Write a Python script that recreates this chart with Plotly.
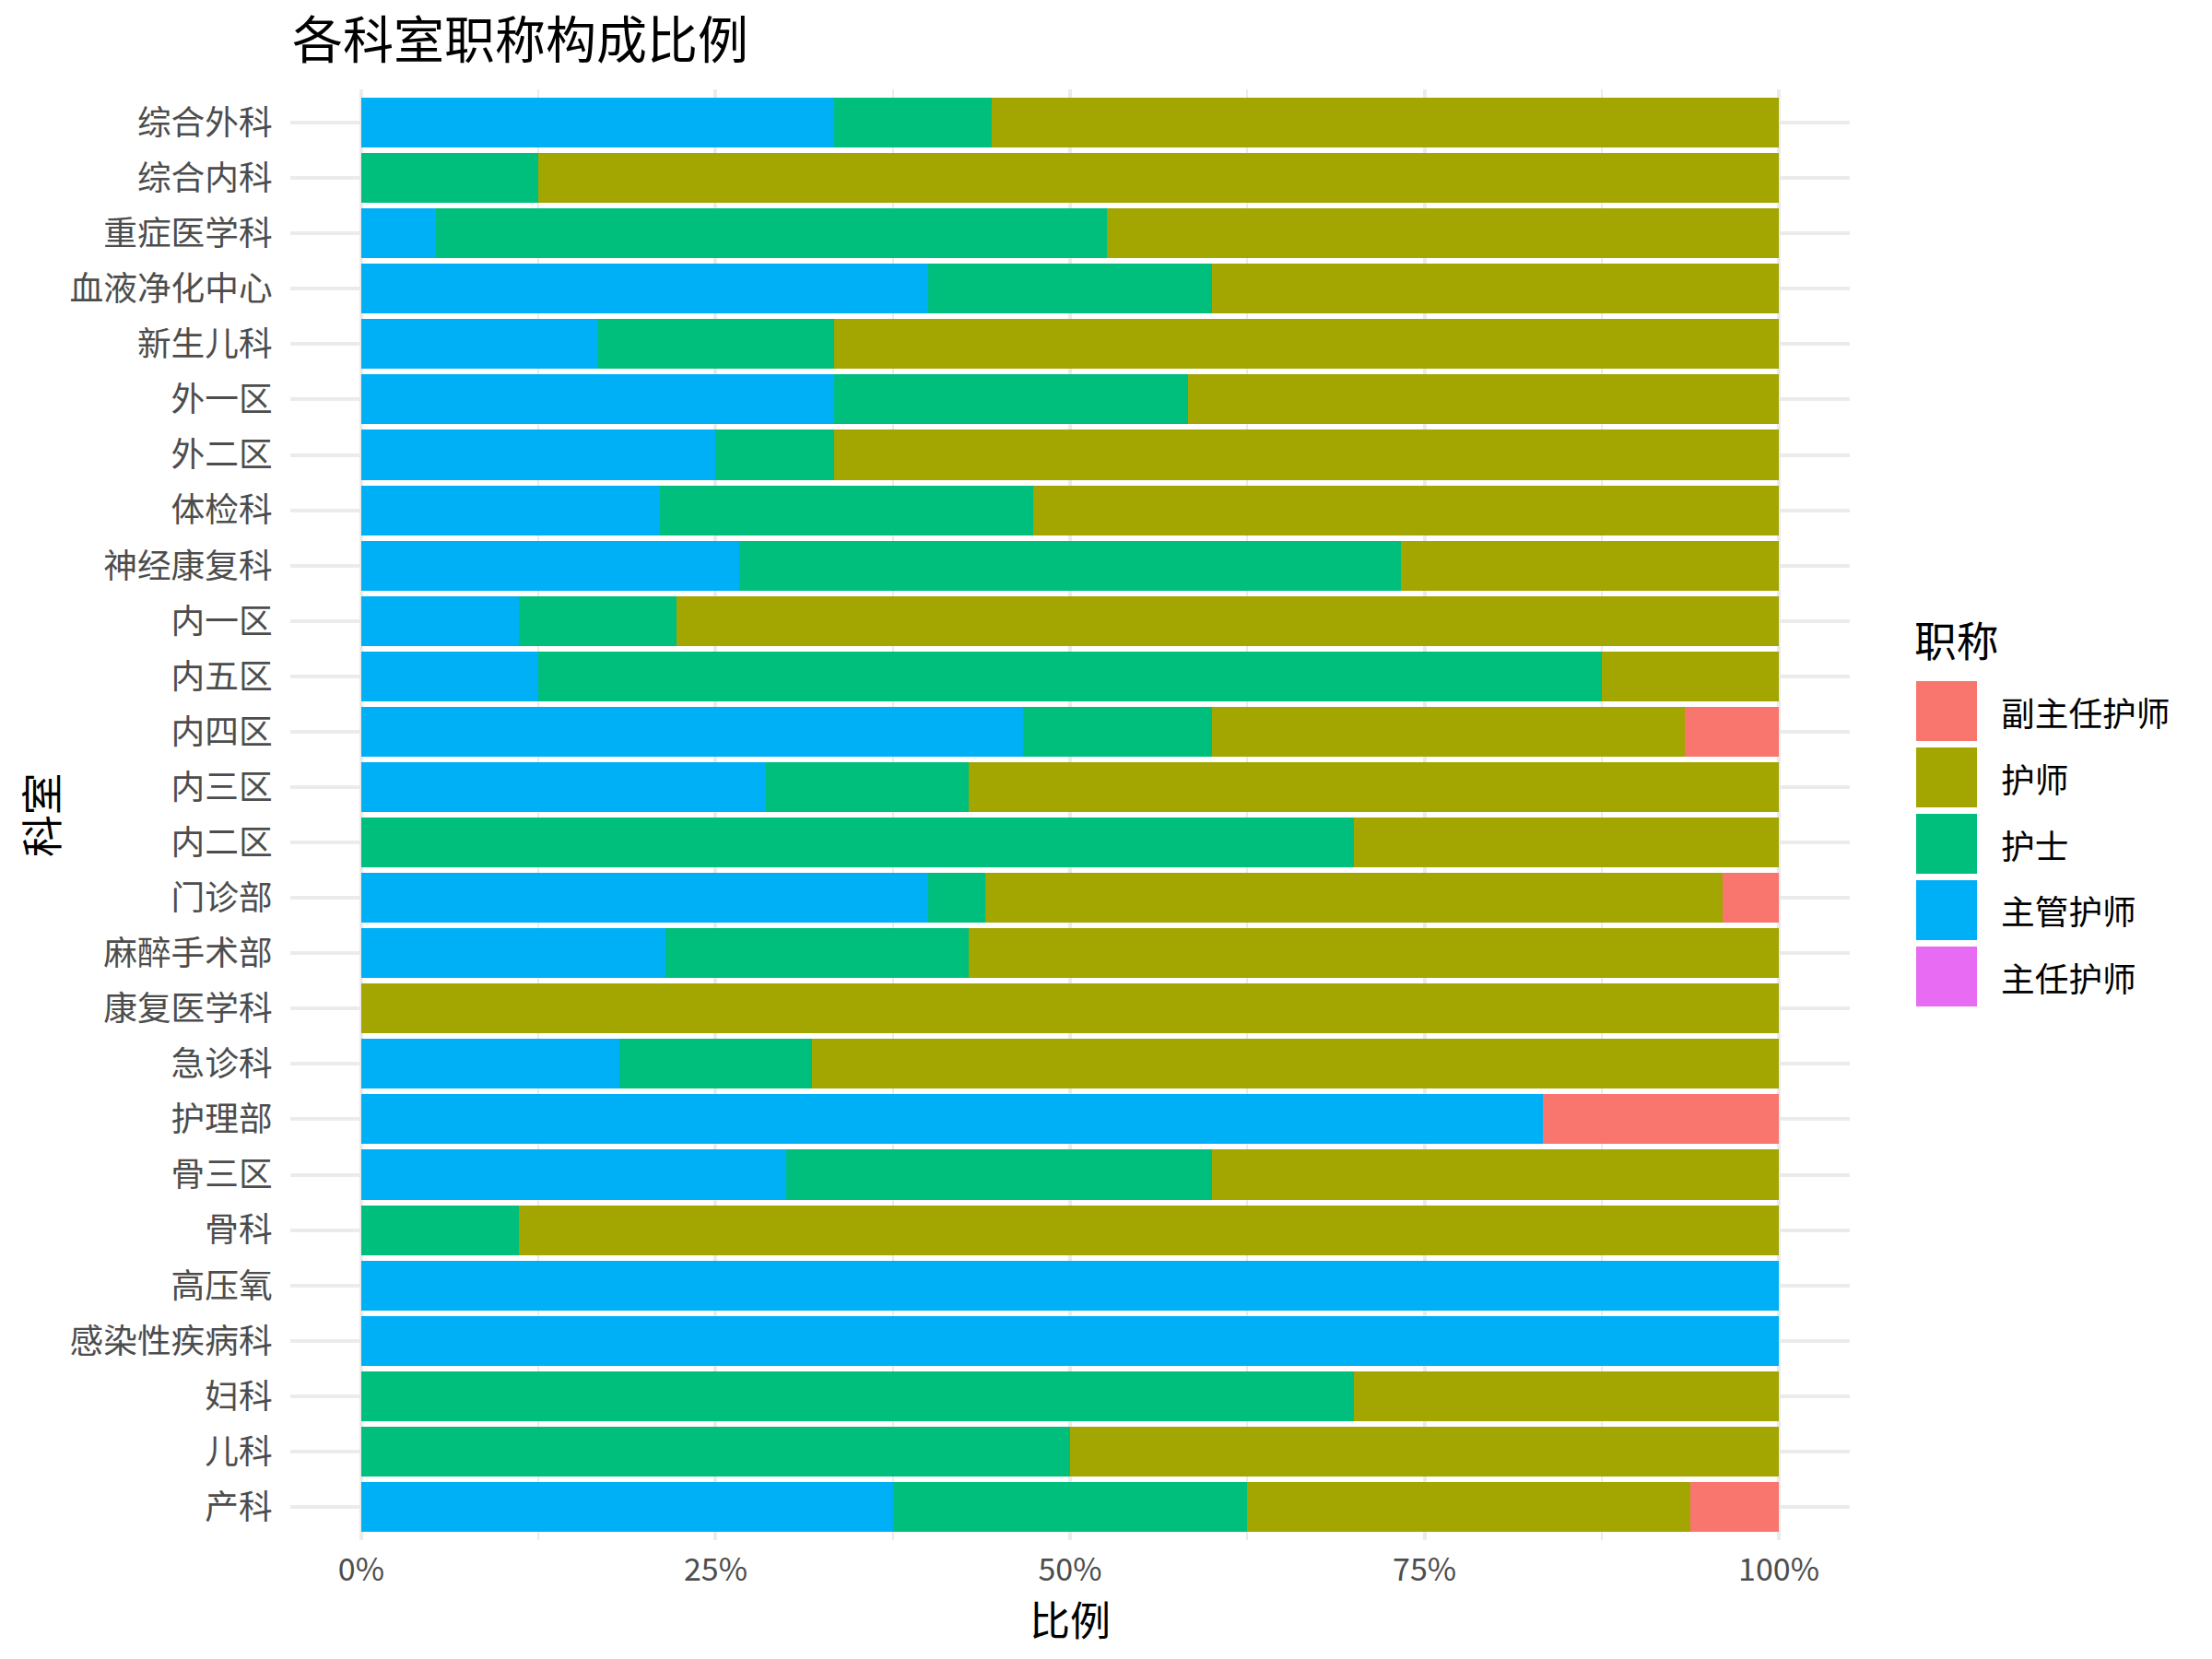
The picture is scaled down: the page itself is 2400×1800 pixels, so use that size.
import plotly.graph_objects as go

departments = ["综合外科", "综合内科", "重症医学科", "血液净化中心", "新生儿科", "外一区", "外二区",
               "体检科", "神经康复科", "内一区", "内五区", "内四区", "内三区", "内二区", "门诊部",
               "麻醉手术部", "康复医学科", "急诊科", "护理部", "骨三区", "骨科", "高压氧",
               "感染性疾病科", "妇科", "儿科", "产科"]

# counts per title (主任护师 absent everywhere)
zhuren    = [0] * 26
zhuguan   = [3, 0, 1, 2, 1, 4, 3, 4, 4, 1, 1, 7, 2, 0, 10, 3, 0, 4, 5, 3, 0, 1, 1, 0, 0, 6]
hushi_sh  = [1, 1, 9, 1, 1, 3, 1, 5, 7, 1, 6, 2, 1, 7, 1, 3, 0, 3, 0, 3, 1, 0, 0, 7, 1, 4]
hushi     = [5, 7, 9, 2, 4, 5, 8, 10, 4, 7, 1, 5, 4, 3, 13, 8, 1, 15, 0, 4, 8, 0, 0, 3, 1, 5]
fuzhuren  = [0, 0, 0, 0, 0, 0, 0, 0, 0, 0, 0, 1, 0, 0, 1, 0, 0, 0, 1, 0, 0, 0, 0, 0, 0, 1]

legend_labels = ["副主任护师", "护师", "护士", "主管护师", "主任护师"]
legend_colors = ["#F8766D", "#A3A500", "#00BF7D", "#00B0F6", "#E76BF3"]

series = {"副主任护师": fuzhuren, "护师": hushi, "护士": hushi_sh, "主管护师": zhuguan, "主任护师": zhuren}
color_of = dict(zip(legend_labels, legend_colors))
stack_order = ["主任护师", "主管护师", "护士", "护师", "副主任护师"]

FONT = "Noto Sans CJK SC"
W, H = 2400, 1800
ML, MR, MT, MB = 315, 393, 97, 129
PW, PH = W - ML - MR, H - MT - MB

fig = go.Figure()
for name in stack_order:
    fig.add_trace(go.Bar(y=departments, x=series[name], name=name, orientation="h",
                         marker=dict(color=color_of[name], line=dict(width=0)),
                         showlegend=False))

def px(X):
    return (X - ML) / PW

def py(Y):
    return (H - MB - Y) / PH

shapes = []
annotations = []
# legend
annotations.append(dict(text="职称", x=px(2075), y=py(693), xref="paper", yref="paper",
                        xanchor="left", yanchor="middle", showarrow=False,
                        font=dict(family=FONT, size=45.8, color="black")))
for i, (lab, col) in enumerate(zip(legend_labels, legend_colors)):
    top = 739 + 72 * i
    shapes.append(dict(type="rect", xref="paper", yref="paper",
                       x0=px(2079), x1=px(2145), y0=py(top + 65), y1=py(top),
                       fillcolor=col, line=dict(width=0)))
    annotations.append(dict(text=lab, x=px(2169), y=py(top + 32.5), xref="paper", yref="paper",
                            xanchor="left", yanchor="middle", showarrow=False,
                            font=dict(family=FONT, size=36.7, color="black")))
# axis titles
annotations.append(dict(text="比例", x=0.5, y=py(1756), xref="paper", yref="paper",
                        xanchor="center", yanchor="middle", showarrow=False,
                        font=dict(family=FONT, size=44, color="black")))
annotations.append(dict(text="科室", x=px(43), y=0.5, xref="paper", yref="paper",
                        xanchor="center", yanchor="middle", showarrow=False, textangle=-90,
                        font=dict(family=FONT, size=45.8, color="black")))

fig.update_layout(
    width=W, height=H,
    margin=dict(l=ML, r=MR, t=MT, b=MB, pad=0),
    barmode="stack", barnorm="fraction", bargap=0.1,
    plot_bgcolor="white", paper_bgcolor="white",
    font=dict(family=FONT),
    showlegend=False,
    title=dict(text="各科室职称构成比例", x=px(317), xref="paper", xanchor="left",
               y=1 - 44 / H, yref="container", yanchor="middle",
               font=dict(family=FONT, size=55, color="black")),
    shapes=shapes, annotations=annotations,
)
fig.update_xaxes(range=[-0.05, 1.05], tickvals=[0, 0.25, 0.5, 0.75, 1.0], tickformat=".0%",
                 showgrid=True, gridcolor="#EBEBEB", gridwidth=3.5, zeroline=False,
                 showline=False, ticks="outside", ticklen=2, tickcolor="rgba(0,0,0,0)",
                 tickfont=dict(family=FONT, size=34, color="#4D4D4D"),
                 minor=dict(tickvals=[0.125, 0.375, 0.625, 0.875], showgrid=True,
                            gridcolor="#EBEBEB", gridwidth=1.8, ticks=""))
fig.update_yaxes(type="category", categoryorder="array", categoryarray=departments,
                 range=[len(departments) - 1 + 0.6, -0.6],
                 showgrid=True, gridcolor="#EBEBEB", gridwidth=3.5, zeroline=False,
                 showline=False, ticks="outside", ticklen=11, tickcolor="rgba(0,0,0,0)",
                 tickfont=dict(family=FONT, size=36.7, color="#4D4D4D"))

fig.write_html("out.html")
